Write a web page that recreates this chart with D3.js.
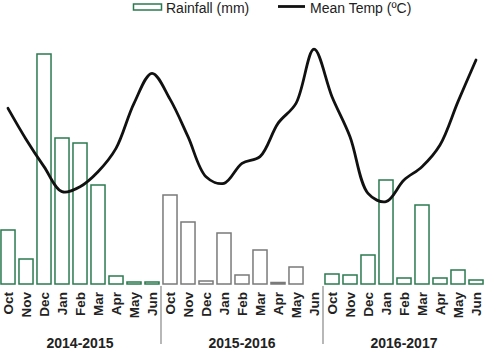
<!DOCTYPE html>
<html>
<head>
<meta charset="utf-8">
<script src="https://cdn.jsdelivr.net/npm/d3@7"></script>
<style>
  html, body { margin: 0; padding: 0; background: #fff; }
  svg { display: block; font-family: "Liberation Sans", Arial, Helvetica, sans-serif; }
</style>
</head>
<body>
<svg id="chart" width="485" height="360"></svg>
<script>
// ---- data ----
const seasons = ["2014-2015", "2015-2016", "2016-2017"];
const months = ["Oct", "Nov", "Dec", "Jan", "Feb", "Mar", "Apr", "May", "Jun"];
const rainfall2014 = [54, 25, 230, 146, 141, 99, 8, 2, 2];
const rainfall2015 = [89, 62, 3, 51, 9, 34, 1.5, 17, 0];
const rainfall2016 = [10, 9, 29, 104, 6, 79, 6, 14, 4];
const temp2014 = [23.8, 20.1, 16.8, 13.8, 14.4, 16.2, 19.0, 24.4, 28.0];
const temp2015 = [24.9, 20.4, 15.6, 14.8, 17.2, 18.0, 22.0, 24.4, 30.9];
const temp2016 = [25.2, 20.4, 13.6, 12.6, 15.2, 16.8, 19.4, 24.6, 29.6];
const seasonColors = ["#2b7a50", "#7a7a7a", "#2b7a50"];
const legendLabels = ["Rainfall (mm)", "Mean Temp (\u00baC)"];

// ---- table ----
const rainBySeason = [rainfall2014, rainfall2015, rainfall2016];
const tempBySeason = [temp2014, temp2015, temp2016];
const rows = [];
seasons.forEach((s, si) => {
  months.forEach((m, mi) => {
    rows.push({ key: s + "|" + m, season: si, month: m, rain: rainBySeason[si][mi], temp: tempBySeason[si][mi] });
  });
});

const svg = d3.select("#chart");
const baseline = 284;

const x = d3.scaleBand()
  .domain(rows.map(d => d.key))
  .range([-1, 485])
  .paddingInner(0.22)
  .paddingOuter(0.11);

const yRain = d3.scaleLinear().domain([0, 250]).range([baseline, 34]);
const yTemp = d3.scaleLinear().domain([8, 32]).range([240, 40]);

// ---- bars ----
svg.append("g").selectAll("rect")
  .data(rows)
  .join("rect")
  .attr("x", d => x(d.key))
  .attr("y", d => yRain(d.rain))
  .attr("width", x.bandwidth())
  .attr("height", d => baseline - yRain(d.rain))
  .attr("fill", "#fff")
  .attr("stroke", d => seasonColors[d.season])
  .attr("stroke-width", 1.5);

// ---- temperature line ----
const line = d3.line()
  .x(d => x(d.key) + x.bandwidth() / 2)
  .y(d => yTemp(d.temp))
  .curve(d3.curveCatmullRom.alpha(0.5));

svg.append("path")
  .datum(rows)
  .attr("d", line)
  .attr("fill", "none")
  .attr("stroke", "#111")
  .attr("stroke-width", 2.8)
  .attr("stroke-linejoin", "round")
  .attr("stroke-linecap", "round");

// ---- month axis ----
const xAxis = d3.axisBottom(x)
  .tickSize(0)
  .tickPadding(0)
  .tickFormat(k => k.split("|")[1]);

const ax = svg.append("g")
  .attr("transform", `translate(0,${baseline + 8})`)
  .call(xAxis);
ax.select(".domain").remove();
ax.selectAll("text")
  .attr("transform", "rotate(-90)")
  .attr("x", 0)
  .attr("y", 0)
  .attr("dy", "0.34em")
  .attr("text-anchor", "end")
  .attr("fill", "#222")
  .style("font-size", "13.5px")
  .style("font-weight", "bold")
  .style("font-family", "'Liberation Sans', Arial, sans-serif");

// ---- season separators and labels ----
const step = x.step();
seasons.forEach((s, si) => {
  const first = x(s + "|" + months[0]) + x.bandwidth() / 2;
  const last = x(s + "|" + months[months.length - 1]) + x.bandwidth() / 2;
  svg.append("text")
    .attr("x", (first + last) / 2)
    .attr("y", 348)
    .attr("text-anchor", "middle")
    .attr("fill", "#222")
    .style("font-size", "14px")
    .style("font-weight", "bold")
    .text(s);
  if (si > 0) {
    const sx = first - step / 2;
    svg.append("line")
      .attr("x1", sx).attr("x2", sx)
      .attr("y1", 286).attr("y2", 344)
      .attr("stroke", "#888")
      .attr("stroke-width", 1.2);
  }
});

// ---- legend ----
const lg = svg.append("g");
lg.append("rect")
  .attr("x", 133.5).attr("y", 4).attr("width", 28).attr("height", 6)
  .attr("fill", "#fff").attr("stroke", seasonColors[0]).attr("stroke-width", 1.5);
lg.append("text")
  .attr("x", 166).attr("y", 13)
  .attr("fill", "#222")
  .style("font-size", "14px")
  .text(legendLabels[0]);
lg.append("line")
  .attr("x1", 278).attr("x2", 305).attr("y1", 6.5).attr("y2", 6.5)
  .attr("stroke", "#111").attr("stroke-width", 2.8);
lg.append("text")
  .attr("x", 310).attr("y", 13)
  .attr("fill", "#222")
  .style("font-size", "14px")
  .text(legendLabels[1]);
</script>
</body>
</html>
